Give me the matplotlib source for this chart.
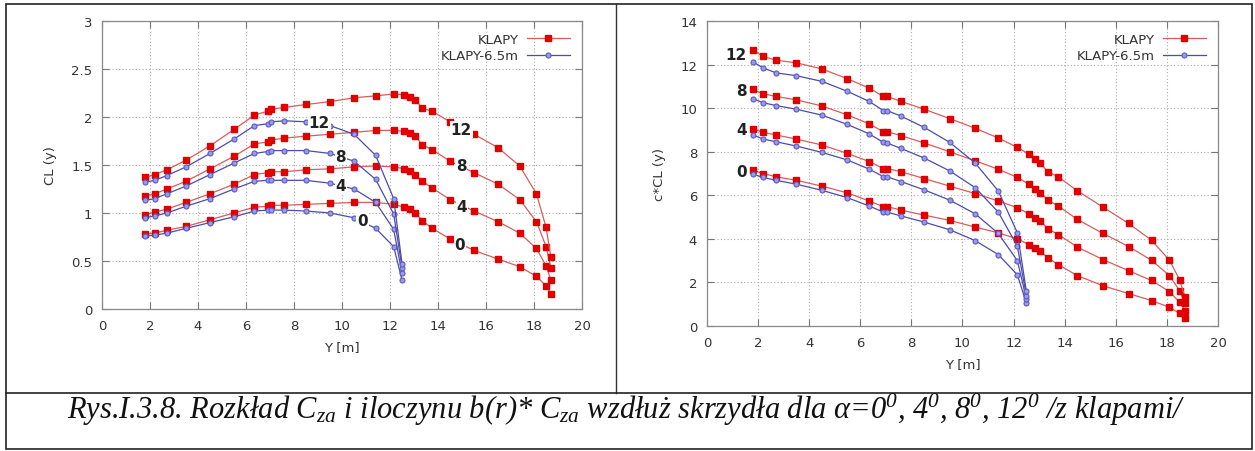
import matplotlib
matplotlib.use("Agg")
import matplotlib.pyplot as plt
from matplotlib.lines import Line2D
from matplotlib.patches import Rectangle

# ---------------- data ----------------
X_RED = [1.8, 2.2, 2.7, 3.5, 4.5, 5.5, 6.35, 6.9, 7.05, 7.6, 8.5, 9.5, 10.5, 11.4,
         12.15, 12.6, 12.85, 13.05, 13.35, 13.75, 14.5, 15.5, 16.5, 17.4, 18.1, 18.5, 18.7]
X_BLUE = [1.8, 2.2, 2.7, 3.5, 4.5, 5.5, 6.35, 6.9, 7.05, 7.6, 8.5, 9.5, 10.5, 11.4, 12.15, 12.5]

ALPHAS = ["0", "4", "8", "12"]

# Left panel: CL(y)
CL_RED_0 = [0.78, 0.79, 0.82, 0.86, 0.93, 1.00, 1.06, 1.07, 1.08, 1.08, 1.09, 1.10, 1.11, 1.11,
            1.09, 1.06, 1.04, 1.00, 0.92, 0.84, 0.73, 0.61, 0.52, 0.44, 0.34, 0.24, 0.16]
CL_RED_4 = [0.98, 1.01, 1.04, 1.11, 1.20, 1.30, 1.40, 1.42, 1.43, 1.43, 1.45, 1.46, 1.48, 1.49,
            1.48, 1.46, 1.44, 1.40, 1.33, 1.26, 1.14, 1.02, 0.91, 0.79, 0.63, 0.45, 0.30]
CL_RED_8 = [1.18, 1.20, 1.25, 1.33, 1.46, 1.59, 1.72, 1.74, 1.76, 1.78, 1.80, 1.82, 1.84, 1.86,
            1.86, 1.85, 1.83, 1.80, 1.71, 1.66, 1.54, 1.42, 1.30, 1.14, 0.91, 0.65, 0.43]
CL_RED_12 = [1.37, 1.40, 1.45, 1.55, 1.70, 1.87, 2.02, 2.06, 2.08, 2.10, 2.13, 2.16, 2.20, 2.22,
             2.24, 2.23, 2.21, 2.18, 2.09, 2.06, 1.95, 1.82, 1.68, 1.49, 1.20, 0.85, 0.54]

CL_BLUE_0 = [0.76, 0.77, 0.79, 0.84, 0.90, 0.96, 1.02, 1.03, 1.03, 1.03, 1.02, 1.00, 0.95, 0.84, 0.65, 0.30]
CL_BLUE_4 = [0.95, 0.97, 1.00, 1.07, 1.15, 1.25, 1.33, 1.34, 1.34, 1.34, 1.34, 1.31, 1.25, 1.11, 0.83, 0.37]
CL_BLUE_8 = [1.13, 1.15, 1.20, 1.28, 1.40, 1.52, 1.62, 1.64, 1.65, 1.65, 1.65, 1.62, 1.54, 1.35, 0.99, 0.43]
CL_BLUE_12 = [1.32, 1.34, 1.39, 1.48, 1.62, 1.77, 1.91, 1.93, 1.95, 1.96, 1.95, 1.91, 1.82, 1.60, 1.15, 0.47]

# Right panel: c*CL(y)
CCL_RED_0 = [7.15, 7.00, 6.85, 6.69, 6.42, 6.11, 5.74, 5.48, 5.48, 5.32, 5.09, 4.85, 4.54, 4.28,
             4.00, 3.74, 3.58, 3.43, 3.12, 2.82, 2.31, 1.85, 1.49, 1.17, 0.86, 0.58, 0.38]
CCL_RED_4 = [9.05, 8.89, 8.77, 8.58, 8.31, 7.92, 7.55, 7.23, 7.23, 7.08, 6.77, 6.42, 6.08, 5.74,
             5.43, 5.15, 4.97, 4.82, 4.46, 4.20, 3.62, 3.05, 2.54, 2.09, 1.58, 1.09, 0.71]
CCL_RED_8 = [10.86, 10.66, 10.54, 10.38, 10.10, 9.69, 9.28, 8.92, 8.92, 8.74, 8.40, 8.00, 7.58, 7.20,
             6.82, 6.51, 6.31, 6.12, 5.77, 5.51, 4.89, 4.25, 3.65, 3.02, 2.31, 1.62, 1.05]
CCL_RED_12 = [12.66, 12.38, 12.20, 12.08, 11.80, 11.35, 10.92, 10.54, 10.54, 10.31, 9.95, 9.52, 9.08, 8.63,
              8.20, 7.89, 7.66, 7.46, 7.08, 6.85, 6.20, 5.46, 4.71, 3.94, 3.02, 2.12, 1.35]

CCL_BLUE_0 = [6.97, 6.82, 6.69, 6.51, 6.23, 5.89, 5.51, 5.23, 5.23, 5.05, 4.77, 4.42, 3.92, 3.28, 2.35, 1.05]
CCL_BLUE_4 = [8.77, 8.58, 8.46, 8.26, 7.97, 7.62, 7.20, 6.86, 6.85, 6.63, 6.25, 5.78, 5.15, 4.25, 3.00, 1.25]
CCL_BLUE_8 = [10.43, 10.25, 10.12, 9.95, 9.68, 9.25, 8.82, 8.43, 8.40, 8.15, 7.71, 7.12, 6.35, 5.23, 3.66, 1.40]
CCL_BLUE_12 = [12.12, 11.85, 11.62, 11.49, 11.23, 10.77, 10.31, 9.89, 9.89, 9.63, 9.12, 8.43, 7.48, 6.20, 4.28, 1.60]

# label anchor positions (x, y) for the alpha annotations
LEFT_BLUE_LABEL_XY = [(10.85, 0.92), (9.95, 1.29), (9.95, 1.59), (9.05, 1.94)]
LEFT_RED_LABEL_XY = [(14.9, 0.67), (15.0, 1.07), (14.97, 1.49), (14.97, 1.87)]
RIGHT_LABEL_XY = [(1.55, 7.1), (1.55, 9.0), (1.55, 10.8), (1.55, 12.45)]

SERIES_NAMES = ["KLAPY", "KLAPY-6.5m"]
CAPTION = ("Rys.I.3.8. Rozkład $C_{za}$ i iloczynu b(r)* $C_{za}$ wzdłuż skrzydła dla "
           "α=$0^{0}$, $4^{0}$, $8^{0}$, $12^{0}$ /z klapami/")

# ---------------- style ----------------
plt.rcParams['font.family'] = ['DejaVu Sans']
plt.rcParams['mathtext.fontset'] = 'custom'
plt.rcParams['mathtext.it'] = 'Liberation Serif:italic'
plt.rcParams['mathtext.rm'] = 'Liberation Serif:italic'
plt.rcParams['mathtext.default'] = 'it'

RED_LINE = '#d95c5c'
RED_MARK = '#e00000'
BLUE_LINE = '#4b4bb0'
BLUE_MARK_FACE = '#9a9aec'
BLUE_MARK_EDGE = '#5a5ac0'
TXT = '#333333'

fig = plt.figure(figsize=(12.55, 4.52), dpi=100)


def style_axes(ax, xlim, ylim, yticks, ylabel):
    ax.set_xlim(*xlim)
    ax.set_ylim(*ylim)
    ax.set_xticks(range(0, 21, 2))
    ax.set_yticks(yticks)
    ax.grid(True, color='#aaaaaa', linestyle=(0, (1, 2)), linewidth=0.8)
    ax.tick_params(direction='in', top=True, right=True, length=5, width=0.8,
                   color='#777777', labelsize=9.5, labelcolor=TXT, pad=7)
    for s in ax.spines.values():
        s.set_color('#888888')
        s.set_linewidth(0.9)
    ax.set_xlabel('Y [m]', fontsize=9.5, color=TXT, labelpad=6)
    ax.set_ylabel(ylabel, fontsize=9.5, color=TXT, labelpad=10)


def plot_group(ax, xr, reds, xb, blues):
    for i, (yr, yb) in enumerate(zip(reds, blues)):
        ax.plot(xr, yr, color=RED_LINE, lw=0.9, marker='s', ms=4.3,
                mfc=RED_MARK, mec=RED_MARK, zorder=3,
                label=SERIES_NAMES[0] if i == 0 else None)
        ax.plot(xb, yb, color=BLUE_LINE, lw=0.9, marker='o', ms=3.6,
                mfc=BLUE_MARK_FACE, mec=BLUE_MARK_EDGE, mew=0.8, zorder=3,
                label=SERIES_NAMES[1] if i == 0 else None)
    ax.legend(loc='upper right', frameon=False, markerfirst=False, fontsize=9.5,
              handlelength=3.3, handletextpad=0.6, labelspacing=0.25,
              borderaxespad=0.5, labelcolor=TXT)


# Left panel
axL = fig.add_axes([0.0813, 0.3142, 0.3825, 0.6372])
plot_group(axL, X_RED, [CL_RED_0, CL_RED_4, CL_RED_8, CL_RED_12],
           X_BLUE, [CL_BLUE_0, CL_BLUE_4, CL_BLUE_8, CL_BLUE_12])
style_axes(axL, (0, 20), (0, 3), [0, 0.5, 1, 1.5, 2, 2.5, 3], 'CL (y)')
axL.set_yticklabels(['0', '0.5', '1', '1.5', '2', '2.5', '3'])
for lab, (x, y) in zip(ALPHAS, LEFT_BLUE_LABEL_XY):
    axL.text(x, y, lab, fontsize=11, fontweight='bold', color='#222222', ha='center', va='center',
             zorder=5, bbox=dict(facecolor='white', edgecolor='none', pad=0.6))
for lab, (x, y) in zip(ALPHAS, LEFT_RED_LABEL_XY):
    axL.text(x, y, lab, fontsize=11, fontweight='bold', color='#222222', ha='center', va='center',
             zorder=5, bbox=dict(facecolor='white', edgecolor='none', pad=0.6))

# Right panel
axR = fig.add_axes([0.5633, 0.2765, 0.4072, 0.6748])
plot_group(axR, X_RED, [CCL_RED_0, CCL_RED_4, CCL_RED_8, CCL_RED_12],
           X_BLUE, [CCL_BLUE_0, CCL_BLUE_4, CCL_BLUE_8, CCL_BLUE_12])
style_axes(axR, (0, 20), (0, 14), range(0, 15, 2), 'c*CL (y)')
for lab, (x, y) in zip(ALPHAS, RIGHT_LABEL_XY):
    axR.text(x, y, lab, fontsize=11, fontweight='bold', color='#222222', ha='right', va='center',
             zorder=5)

# frame lines
fig.add_artist(Rectangle((0.0048, 0.0044), 0.9928, 0.9845, transform=fig.transFigure,
                         fill=False, edgecolor='#222222', linewidth=1.2))
fig.add_artist(Line2D([0.4908, 0.4908], [0.1283, 0.989], transform=fig.transFigure,
                      color='#333333', linewidth=1.0))
fig.add_artist(Line2D([0.0048, 0.9976], [0.1283, 0.1283], transform=fig.transFigure,
                      color='#222222', linewidth=1.2))

fig.text(0.499, 0.094, CAPTION, ha='center', va='center', fontsize=22,
         family=['Liberation Serif'], style='italic', color='#111111')

fig.savefig('out.png', dpi=100)
